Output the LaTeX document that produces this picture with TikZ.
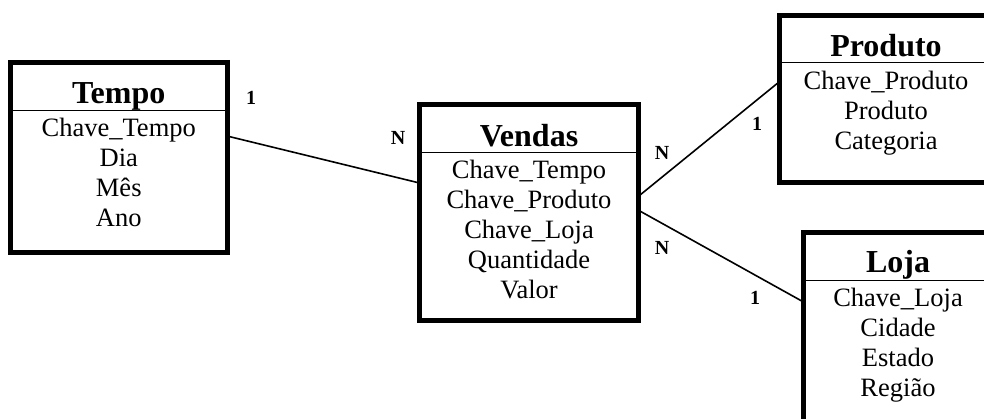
\documentclass[tikz,border=0pt]{standalone}
\usepackage{fontspec}
\setmainfont{Liberation Serif}
\tikzset{
  tabela/.style={draw, line width=5pt, inner sep=0pt, outer sep=0pt},
  titulo/.style={font=\fontsize{32}{36}\selectfont\bfseries, anchor=base},
  campo/.style={font=\fontsize{26.5}{30}\selectfont, anchor=base},
  card/.style={font=\fontsize{20}{22}\selectfont\bfseries},
  liga/.style={line width=1.6pt},
}
\begin{document}
\begin{tikzpicture}[x=1pt,y=-1pt]
        \useasboundingbox (0,0) rectangle (984,418);

        % tabelas
        \node[tabela, minimum width=216.5, minimum height=190.5] (tempo) at (118.75,157.25) {};
        \node[tabela, minimum width=219, minimum height=215.5] (vendas) at (529,212.25) {};
        \node[tabela, minimum width=214, minimum height=166.5] (produto) at (886,98.75) {};
        \node[tabela, minimum width=189, minimum height=227] (loja) at (898,346) {};

        \draw[line width=1pt] (tempo.west |- 0,110) -- (tempo.east |- 0,110);
        \draw[line width=1pt] (vendas.west |- 0,152) -- (vendas.east |- 0,152);
        \draw[line width=1pt] (produto.west |- 0,62) -- (produto.east |- 0,62);
        \draw[line width=1pt] (loja.west |- 0,280) -- (loja.east |- 0,280);

        \node[titulo] (tempo-t) at (118.75,103) {Tempo};
        \node[titulo] (vendas-t) at (529,146) {Vendas};
        \node[titulo] (produto-t) at (886,56) {Produto};
        \node[titulo] (loja-t) at (898,272) {Loja};

        \foreach \t [count=\i] in {Chave\_Tempo, Dia, Mês, Ano}
            \node[campo] (tempo-\i) at (118.75,106+30*\i) {\t};
        \foreach \t [count=\i] in {Chave\_Tempo, Chave\_Produto, Chave\_Loja, Quantidade, Valor}
            \node[campo] (vendas-\i) at (529,148+30*\i) {\t};
        \foreach \t [count=\i] in {Chave\_Produto, Produto, Categoria}
            \node[campo] (produto-\i) at (886,59+30*\i) {\t};
        \foreach \t [count=\i] in {Chave\_Loja, Cidade, Estado, Região}
            \node[campo] (loja-\i) at (898,276+30*\i) {\t};

        % ligacoes
        \draw[liga] ([yshift=21.25pt]tempo.east) -- ([yshift=29.25pt]vendas.west);
        \draw[liga] ([yshift=16pt]vendas.east) -- ([yshift=16.75pt]produto.west);
        \draw[liga] ([yshift=2pt]vendas.east) -- ([yshift=44pt]loja.west);

        \node[card] (c-tempo) at (251,98) {1};
        \node[card] (c-vt) at (398,138) {N};
        \node[card] (c-vp) at (662,153) {N};
        \node[card] (c-produto) at (757,124) {1};
        \node[card] (c-vl) at (662,248) {N};
        \node[card] (c-loja) at (755,298) {1};
\end{tikzpicture}
\end{document}
